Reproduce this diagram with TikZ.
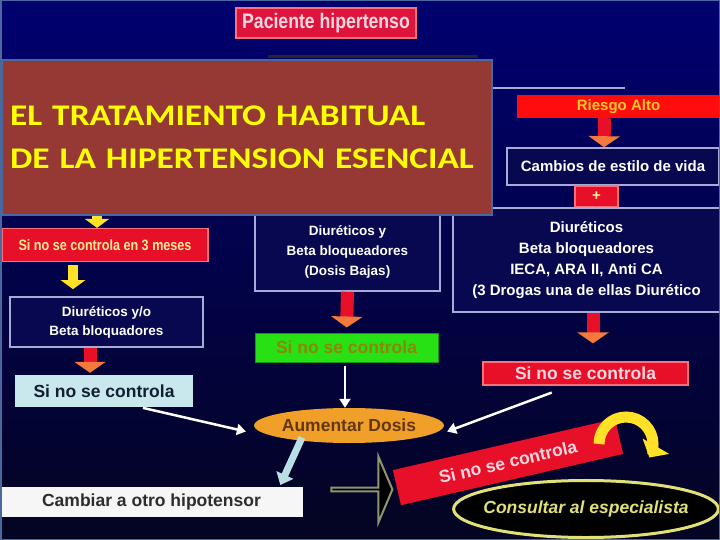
\documentclass[tikz,border=0pt]{standalone}
\usepackage{fontspec}
\setmainfont{Liberation Sans}
\newfontfamily\narrowfont[FakeStretch=0.84]{Liberation Sans}
\newfontfamily\titlefont[FakeStretch=1.18]{Carlito}
\usepackage{xcolor}
\usepackage{tikz}
\usetikzlibrary{arrows.meta,shapes.geometric,shapes.arrows}
\definecolor{navytop}{RGB}{0,0,112}
\definecolor{navybot}{RGB}{4,4,34}
\definecolor{navyfill}{RGB}{8,8,80}
\definecolor{frameblue}{RGB}{72,104,158}
\definecolor{titlered}{RGB}{150,56,52}
\definecolor{titleyel}{RGB}{255,255,0}
\definecolor{boxline}{RGB}{170,170,215}
\definecolor{barred}{RGB}{232,16,40}
\definecolor{barpink}{RGB}{255,110,125}
\definecolor{pinktext}{RGB}{255,215,225}
\definecolor{greenbox}{RGB}{40,225,20}
\definecolor{greentext}{RGB}{140,135,10}
\definecolor{orangeell}{RGB}{240,160,40}
\definecolor{browntext}{RGB}{100,55,15}
\definecolor{cyanbox}{RGB}{200,232,238}
\definecolor{cyanarrow}{RGB}{185,222,228}
\definecolor{arrowyel}{RGB}{255,225,40}
\definecolor{headorange}{RGB}{245,120,60}
\definecolor{consultyel}{RGB}{225,225,120}
\definecolor{paleyel}{RGB}{255,235,150}
\definecolor{riesgotext}{RGB}{255,200,40}
\definecolor{outlinegrey}{RGB}{140,150,110}

\begin{document}
\begin{tikzpicture}[x=1pt,y=-1pt,
  navybox/.style={draw=boxline,line width=1.6pt,fill=navyfill,text=white,align=center,inner sep=0pt},
  redbar/.style={draw=barpink,line width=1.2pt,fill=barred,inner sep=0pt},
  redflow/.style={barred,line width=13pt,-{Triangle[length=11pt,width=31pt,color=headorange]}},
  yelflow/.style={arrowyel,line width=10pt,-{Triangle[length=9pt,width=24pt]}},
  whiteflow/.style={white,line width=2.5pt,-{Triangle[length=9pt,width=11pt]}},
  fs/.style={font=\bfseries\fontsize{#1}{22}\selectfont}]
  \useasboundingbox (0,0) rectangle (720,540);
  \shade[top color=navytop,bottom color=navybot] (0,0) rectangle (720,540);

  \node[redbar,fill={rgb,255:red,222;green,20;blue,60},minimum width=180,minimum height=30,text=pinktext,font=\narrowfont\bfseries\fontsize{21}{24}\selectfont] (paciente) at (326,23) {Paciente hipertenso};

  \draw[black!70!gray,line width=3pt] (268,57) -- (478,57);
  \draw[boxline,line width=1.6pt] (492,88) -- (625,88);

  \node[fill={rgb,255:red,255;green,12;blue,12},minimum width=203,minimum height=23,inner sep=0pt,text=riesgotext,fs=15] (riesgo) at (618.5,106.5) {Riesgo Alto};
  \node[navybox,minimum width=212,minimum height=37,fs=15] (cambios) at (613,166.5) {Cambios de estilo de vida};
  \node[redbar,minimum width=43,minimum height=21,text=paleyel,fs=15] (plus) at (596.5,196.5) {+};
  \node[navybox,minimum width=267,minimum height=104,font=\bfseries\fontsize{15}{21}\selectfont] (drugs) at (586.5,260) {Diuréticos\\Beta bloqueadores\\IECA, ARA II, Anti CA\\(3 Drogas una de ellas Diurético};
  \node[redbar,minimum width=205,minimum height=23,text=pinktext,fs=17.5] (rightctl) at (585.5,373.5) {Si no se controla};

  \node[navybox,minimum width=185,minimum height=78,font=\bfseries\fontsize{13.5}{20}\selectfont] (midbox) at (347.5,252) {Diuréticos y\\Beta bloqueadores\\(Dosis Bajas)};
  \node[draw={rgb,255:red,20;green,150;blue,20},line width=1pt,fill=greenbox,minimum width=183,minimum height=29,inner sep=0pt,text=greentext,fs=17.5] (greenbox) at (346.5,347.5) {Si no se controla};
  \node[ellipse,fill=orangeell,minimum width=188,minimum height=35,inner sep=0pt,text=browntext,fs=17.5] (dosis) at (349,425.5) {Aumentar Dosis};

  \coordinate (titletip) at (97,200);
  \node[redbar,minimum width=206,minimum height=33,text=paleyel,font=\narrowfont\bfseries\fontsize{15}{18}\selectfont] (leftred) at (105,245) {Si no se controla en 3 meses};
  \node[navybox,minimum width=193,minimum height=50,font=\bfseries\fontsize{13.5}{19}\selectfont] (leftbox) at (106.5,322) {Diuréticos y/o\\Beta bloquadores};
  \node[fill=cyanbox,minimum width=178,minimum height=32,inner sep=0pt,text={rgb,255:red,20;green,30;blue,50},fs=17.5] (leftctl) at (104,391) {Si no se controla};
  \node[fill={rgb,255:red,246;green,246;blue,246},minimum width=303,minimum height=30,inner sep=0pt,text={rgb,255:red,45;green,45;blue,45},fs=17.5] (cambiar) at (151.5,502) {Cambiar a otro hipotensor};

  \node[single arrow,fill=black,draw=outlinegrey,line width=2pt,minimum height=61,minimum width=66,single arrow head extend=16pt,single arrow tip angle=134,inner sep=0pt] (bigarrow) at (361.5,489.5) {};
  \node[fill=barred,rotate=13,minimum width=228,minimum height=36,inner sep=0pt,text=pinktext,fs=17.5] (banner) at (508,462) {Si no se controla};
  \node[ellipse,fill=black,draw=consultyel,line width=3pt,inner xsep=-9pt,inner ysep=12pt,text=consultyel,font=\bfseries\itshape\fontsize{17.5}{20}\selectfont] (consult) at (586,509) {Consultar al especialista};

  \coordinate (arcstart) at (599,444);
  \draw[arrowyel,line width=11pt,-{Triangle[length=13pt,width=30pt]}] (arcstart) arc[start angle=180,end angle=390,radius=27];

  \draw[redflow] ([xshift=-14pt]riesgo.south) -- ([xshift=-9pt]cambios.north);
  \draw[redflow,shorten >=18pt] ([xshift=6.5pt]drugs.south) -- ([xshift=7.5pt]rightctl.north);
  \draw[redflow,shorten >=5pt] (midbox.south) -- (greenbox.north);
  \draw[yelflow] (titletip) -- ([xshift=-8pt]leftred.north);
  \draw[yelflow,shorten <=3pt,shorten >=7pt] ([xshift=-32pt]leftred.south) -- ([xshift=-33.5pt]leftbox.north);
  \draw[redflow,shorten >=2pt] ([xshift=-16.5pt]leftbox.south) -- ([xshift=-14pt]leftctl.north);
  \draw[whiteflow,shorten <=3pt] ([xshift=-1.5pt]greenbox.south) -- ([xshift=-4pt]dosis.north);
  \draw[whiteflow,shorten <=3pt] ([xshift=36pt]leftctl.south) -- ([xshift=-8pt,yshift=-6pt]dosis.west);
  \draw[whiteflow,shorten <=20pt] ([xshift=-15pt]rightctl.south) -- ([xshift=3pt,yshift=-6pt]dosis.east);
  \draw[cyanarrow,line width=7pt,-{Triangle[length=11pt,width=18pt]},shorten >=2pt] ([xshift=-47pt,yshift=-12pt]dosis.center) -- ([xshift=128pt]cambiar.north);

  \node[fill=titlered,draw=frameblue,line width=2pt,minimum width=490,minimum height=155,text width=474pt,align=left,inner xsep=8pt,text=titleyel,font=\titlefont\bfseries\fontsize{30}{43}\selectfont] (title) at (247,137.5) {EL TRATAMIENTO HABITUAL\\DE LA HIPERTENSION ESENCIAL};

  \draw[frameblue,line width=3pt] (0,0) rectangle (720,540);
\end{tikzpicture}
\end{document}
